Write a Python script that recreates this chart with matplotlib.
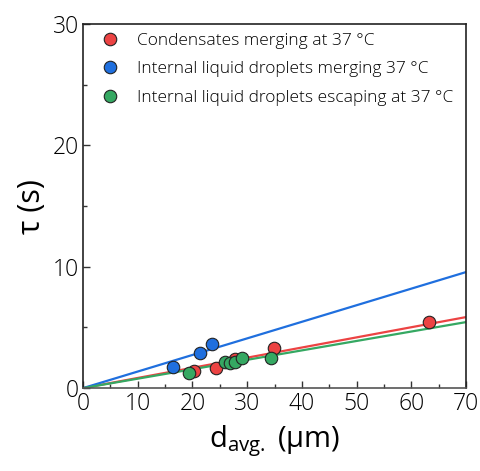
import matplotlib
matplotlib.use('Agg')

import matplotlib.pyplot as plt
import numpy as np
from matplotlib.ticker import MultipleLocator

plt.rcParams['font.family'] = ['Open Sans', 'DejaVu Sans']
plt.rcParams['font.weight'] = 'light'
plt.rcParams['mathtext.fontset'] = 'custom'
plt.rcParams['mathtext.rm'] = 'Open Sans:light'
plt.rcParams['mathtext.it'] = 'Open Sans:light'

# === data ===
cond_d = [20.2, 24.3, 27.7, 34.9, 63.3]
cond_tau = [1.40, 1.62, 2.36, 3.32, 5.47]

merge_d = [16.4, 21.4, 23.5]
merge_tau = [1.76, 2.91, 3.60]

escape_d = [19.3, 26.0, 26.9, 27.8, 29.0, 34.3]
escape_tau = [1.21, 2.12, 2.03, 2.17, 2.45, 2.45]

# fitted slopes (tau = k * d), lines through origin
cond_k = 0.0836
merge_k = 0.1366
escape_k = 0.0777

labels = ['Condensates merging at 37 °C',
          'Internal liquid droplets merging 37 °C',
          'Internal liquid droplets escaping at 37 °C']
colors = ['#ec4343', '#1f6fde', '#35a862']

fig = plt.figure(figsize=(4.8, 4.71), dpi=100)
ax = fig.add_axes([0.173, 0.176, 0.798, 0.773])

xfit = np.array([0, 70])
series = [(cond_d, cond_tau, cond_k), (merge_d, merge_tau, merge_k),
          (escape_d, escape_tau, escape_k)]

# lines first, points on top
for (d, t, k), c in zip(series, colors):
    ax.plot(xfit, k * xfit, color=c, lw=1.6, zorder=2)

for (d, t, k), c, lab in zip(series, colors, labels):
    ax.plot(d, t, 'o', ms=9, mfc=c, mec='#222222', mew=0.8, label=lab,
            zorder=3, clip_on=False)

ax.set_xlim(0, 70)
ax.set_ylim(0, 30)
ax.xaxis.set_major_locator(MultipleLocator(10))
ax.xaxis.set_minor_locator(MultipleLocator(5))
ax.yaxis.set_major_locator(MultipleLocator(10))
ax.yaxis.set_minor_locator(MultipleLocator(5))
ax.tick_params(which='both', direction='in', labelsize=16.5, width=1,
               color='#333333', top=False, right=False)
ax.tick_params(which='major', length=5, pad=3)
ax.tick_params(which='minor', length=3)
for s in ax.spines.values():
    s.set_linewidth(1.2)
    s.set_color('#222222')
ax.spines['bottom'].set_color('#555555')

ax.set_xlabel(r'd$_\mathregular{avg.}$ (μm)', fontsize=21, labelpad=5)
ax.set_ylabel('τ (s)', fontsize=22, labelpad=4)

ax.legend(loc='upper left', frameon=False, fontsize=12.5, handletextpad=0.55,
          borderaxespad=0.2, labelspacing=0.72, markerscale=1.0,
          bbox_to_anchor=(-0.003, 1.005))

fig.savefig('out.png', dpi=100)
